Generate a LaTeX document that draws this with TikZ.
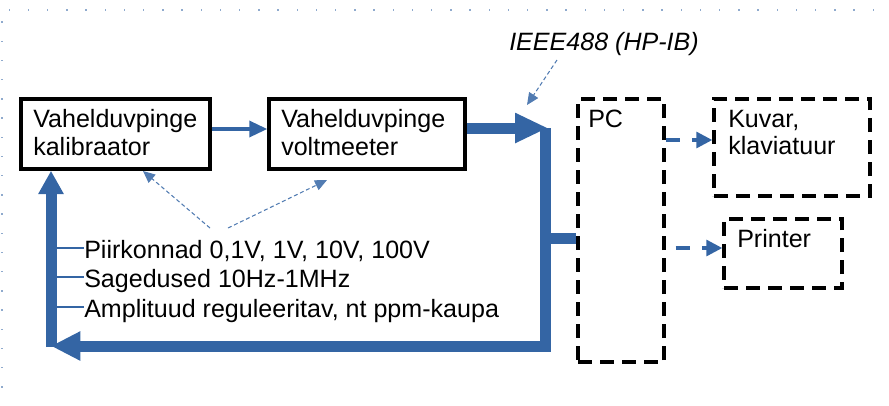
\documentclass[tikz,border=0pt]{standalone}
\usepackage{fontspec}
\setmainfont{Liberation Sans}
\usetikzlibrary{arrows.meta,fit}
\definecolor{busblue}{HTML}{3465A4}
\begin{document}
\begin{tikzpicture}[x=0.75pt,y=-0.75pt,
  every node/.style={font=\fontsize{18.8}{22}\selectfont, inner sep=0pt},
  txt/.style={anchor=base west},
  solidbox/.style={draw=black, line width=2.6pt, inner sep=0pt},
  dashbox/.style={draw=black, line width=2.6pt, dash pattern=on 10.5pt off 6pt, inner sep=0pt},
  bus/.style={draw=busblue, line width=8.25pt},
  thinbus/.style={draw=busblue, line width=2.6pt},
  tick/.style={draw=busblue, line width=2.2pt},
  dasharrow/.style={draw=busblue, line width=2.4pt, dash pattern=on 11pt off 9pt, -{Triangle[length=12pt,width=12pt]}},
  hint/.style={draw=busblue!85, line width=0.8pt, dash pattern=on 3pt off 2pt, -{Triangle[length=9pt,width=8pt]}},
  griddot/.style={fill=busblue!55}
]
\useasboundingbox (0,0) rectangle (889,405);

% page grid dots
\foreach \k in {0,...,45} \fill[griddot] (8.6+19.2*\k,9.3) rectangle ++(1.4,1.4);
\foreach \k in {0,...,19} \fill[griddot] (1.3,21.3+19.2*\k) rectangle ++(1.4,1.4);

% boxes
\node[solidbox, fit={(21,99) (210,169)}] (kal) {};
\node[solidbox, fit={(269,99) (465,169)}] (vm) {};
\node[dashbox, fit={(578,99) (664,362)}] (pc) {};
\node[dashbox, fit={(714,99) (870,196)}] (kuv) {};
\node[dashbox, fit={(724,219) (842,288)}] (pr) {};

% texts
\node[txt] (kal1) at (33,127) {Vahelduvpinge};
\node[txt] (kal2) at (33,155) {kalibraator};
\node[txt] (vm1) at (281,127) {Vahelduvpinge};
\node[txt] (vm2) at (281,155) {voltmeeter};
\node[txt] (pct) at (588,127) {PC};
\node[txt] (kuv1) at (728,127) {Kuvar,};
\node[txt] (kuv2) at (728,154) {klaviatuur};
\node[txt] (prt) at (737,247) {Printer};
\node[txt] (ieee) at (509,50) {\itshape IEEE488 (HP-IB)};
\node[txt] (l1) at (84,258) {Piirkonnad 0,1V, 1V, 10V, 100V};
\node[txt] (l2) at (84,287) {Sagedused 10Hz-1MHz};
\node[txt] (l3) at (84,317) {Amplituud reguleeritav, nt ppm-kaupa};

% bus coordinates
\coordinate (busTop) at (545,128);
\coordinate (busPC) at (545,238);
\coordinate (busBot) at (545,346);
\coordinate (loopBL) at (51,346);

% calibrator -> voltmeter
\draw[thinbus, -{Triangle[length=13.5pt,width=12pt]}] (kal.east |- 0,129) -- (vm.west |- 0,129);

% voltmeter -> bus
\draw[bus, -{Triangle[length=24.75pt,width=21pt]}] (vm.east |- busTop) -- (548,128);
% bus loop
\draw[bus] (busTop) -- (busBot) -- (120,346);
\draw[bus, -{Triangle[length=22pt,width=20.5pt]}] (busBot) -- (loopBL);
\draw[bus, -{Triangle[length=17.5pt,width=18pt]}] (51,347) -- (loopBL |- kal.south);
% bus to PC
\draw[bus] (busPC) -- (pc.west |- busPC);

% ticks to the list
\draw[tick] (loopBL |- 0,248) -- (l1.west |- 0,248);
\draw[tick] (loopBL |- 0,277) -- (l2.west |- 0,277);
\draw[tick] (loopBL |- 0,307) -- (l3.west |- 0,307);

% PC -> peripherals
\draw[dasharrow] (pc.east |- 0,140) -- (kuv.west |- 0,140);
\draw[dasharrow, shorten <=7.5pt] (pc.east |- 0,248) -- (pr.west |- 0,248);

% hint arrows
\coordinate (ieeeFrom) at (557,60);
\coordinate (ieeeTo) at (527,105);
\draw[hint] (ieeeFrom) -- (ieeeTo);
\coordinate (listL) at (210,228);
\coordinate (listR) at (228,228);
\draw[hint] (listL) -- (143,171);
\draw[hint] (listR) -- (327,180);
\end{tikzpicture}
\end{document}
